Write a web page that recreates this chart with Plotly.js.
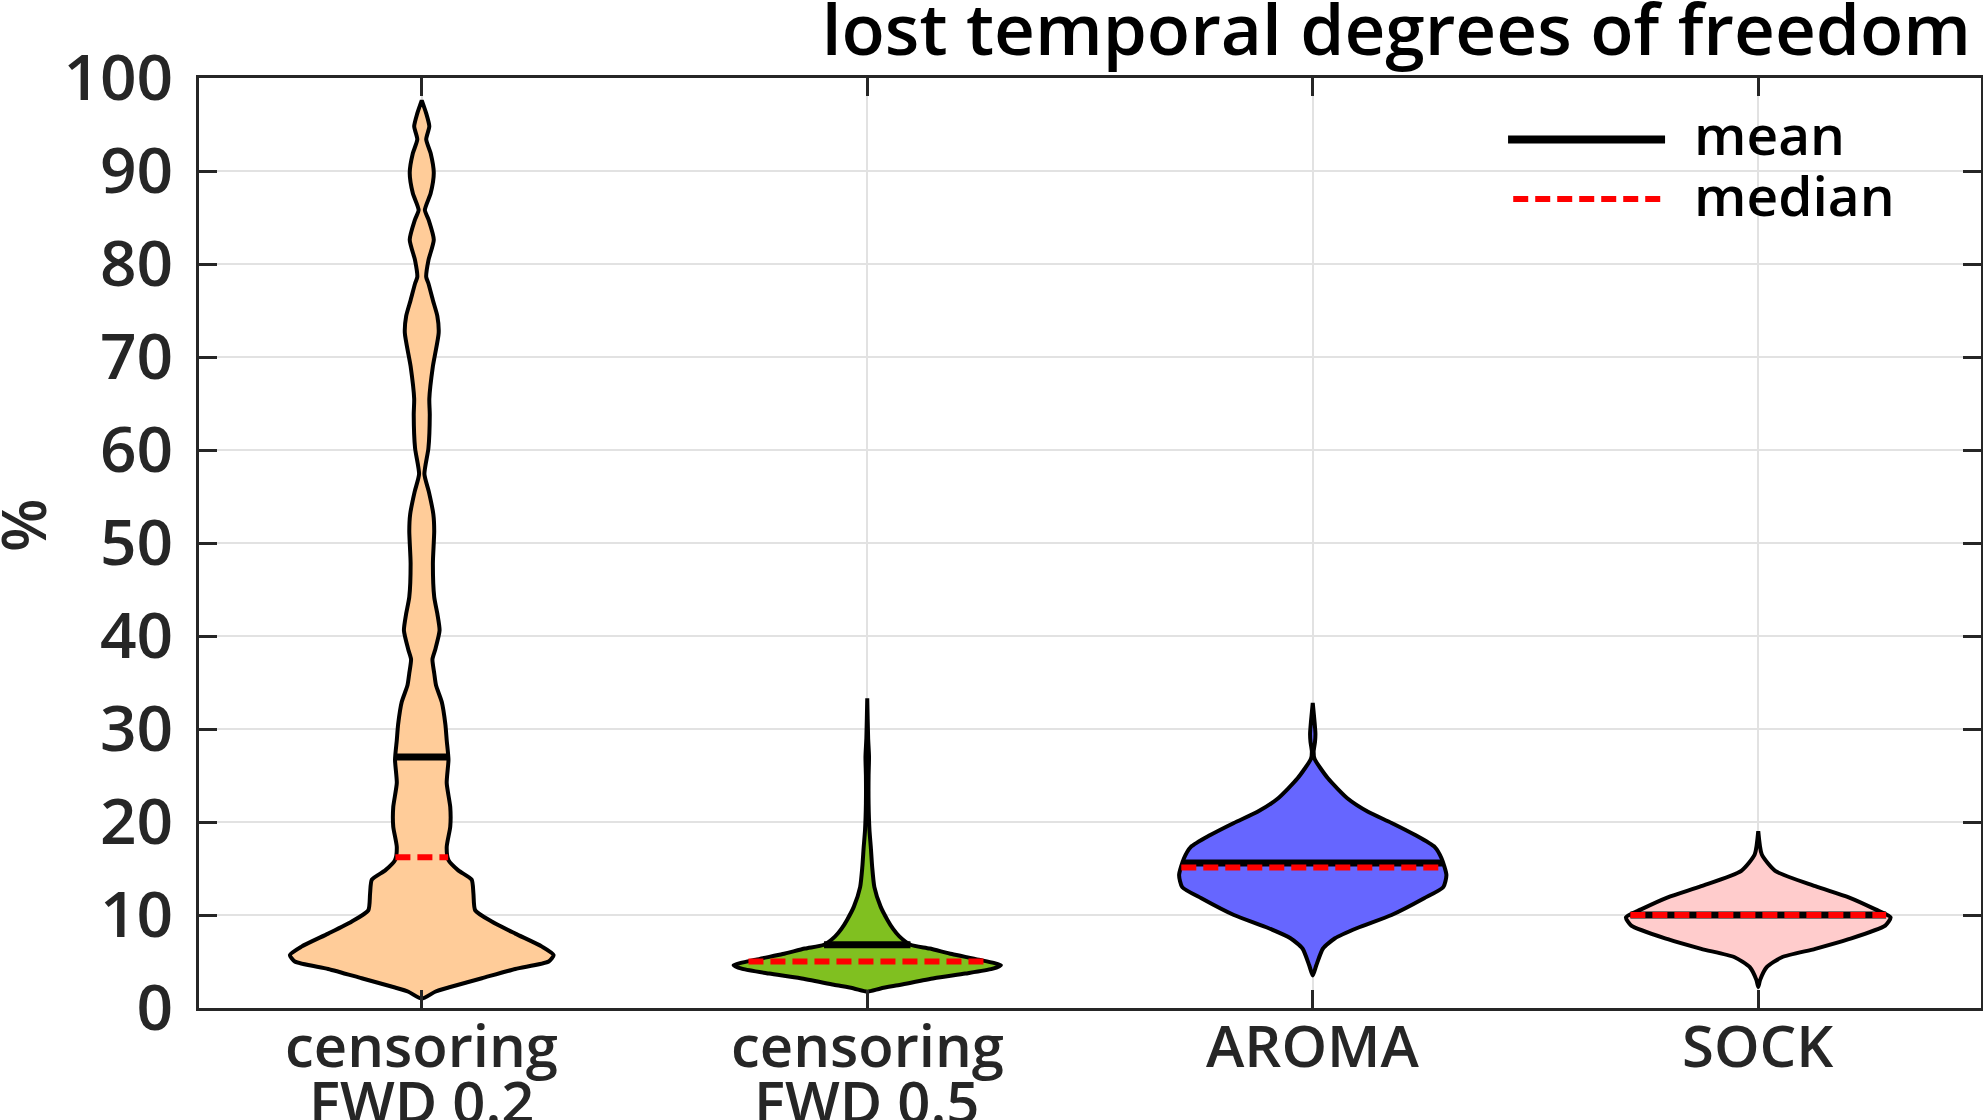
<!DOCTYPE html>
<html>
<head>
<meta charset="utf-8">
<script src="https://cdn.plot.ly/plotly-3.0.1.min.js"></script>
<style>
  html, body { margin: 0; padding: 0; background: #fff; }
  #myDiv { width: 1983px; height: 1120px; }
</style>
</head>
<body>
<div id="myDiv"></div>
<script>
// categories (two-line labels)
const labelTop = ['censoring', 'censoring', 'AROMA', 'SOCK']
const labelBottom = ['FWD 0.2', 'FWD 0.5', '', '']
const fills = ['#FFCC99', '#80C020', '#6666FF', '#FFCCCC']

// violin outlines: level (%) and half width (category units)
const levels1 = [1.0, 1.75, 2.2, 3.2, 4.2, 5.0, 5.7, 6.6, 8.0, 9.3, 10.5, 12.3, 13.8, 14.8, 15.9, 17.3, 19.5, 21.6, 24.2, 26.7, 28.8, 30.5, 32.9, 34.7, 36.0, 37.5, 38.5, 40.6, 42.4, 44.2, 47.8, 51.3, 53.1, 55.5, 57.4, 60.2, 63.8, 65.5, 69.0, 72.6, 74.4, 76.1, 77.9, 78.6, 80.4, 82.6, 84.8, 85.8, 87.6, 89.8, 91.9, 93.4, 94.8, 96.2, 97.6]
const widths1 = [0, 0.03, 0.06, 0.135, 0.21, 0.285, 0.296, 0.27, 0.21, 0.157, 0.12, 0.116, 0.112, 0.082, 0.06, 0.056, 0.064, 0.064, 0.056, 0.06, 0.056, 0.053, 0.045, 0.032, 0.028, 0.024, 0.03, 0.04, 0.035, 0.028, 0.025, 0.028, 0.026, 0.016, 0.006, 0.015, 0.018, 0.017, 0.025, 0.038, 0.035, 0.025, 0.015, 0.01, 0.015, 0.027, 0.015, 0.007, 0.02, 0.027, 0.02, 0.01, 0.017, 0.01, 0]

const levels2 = [1.75, 2.1, 2.5, 3.2, 3.7, 4.2, 4.6, 5.2, 5.8, 6.4, 6.8, 7.7, 8.5, 9.5, 10.9, 13.0, 15.2, 17.3, 19.1, 22.0, 25.0, 27.0, 29.0, 33.3]
const widths2 = [0, 0.03, 0.075, 0.15, 0.22, 0.28, 0.30, 0.25, 0.19, 0.14, 0.097, 0.072, 0.058, 0.045, 0.03, 0.016, 0.011, 0.008, 0.005, 0.003, 0.003, 0.004, 0.002, 0]

const levels3 = [3.5, 4.6, 6.4, 7.5, 8.6, 10.0, 11.8, 13.0, 14.3, 16.1, 17.3, 18.6, 19.9, 21.1, 22.5, 24.7, 26.8, 27.6, 28.6, 29.5, 30.8, 32.8]
const widths3 = [0, 0.008, 0.023, 0.05, 0.10, 0.177, 0.25, 0.293, 0.30, 0.289, 0.274, 0.23, 0.177, 0.124, 0.079, 0.034, 0.004, 0.002, 0.005, 0.006, 0.004, 0]

const levels4 = [2.25, 3.0, 4.4, 5.46, 6.36, 7.4, 8.86, 9.75, 10.6, 11.9, 13.1, 14.75, 16.5, 19.0]
const widths4 = [0, 0.004, 0.019, 0.053, 0.128, 0.203, 0.285, 0.297, 0.263, 0.203, 0.128, 0.038, 0.008, 0]

const means = [27.0, 6.8, 15.6, 10.0]
const medians = [16.2, 5.0, 15.1, 10.0]

const allLevels = [levels1, levels2, levels3, levels4]
const allWidths = [widths1, widths2, widths3, widths4]

function halfWidthAt(lv, wd, v) {
  for (let i = 1; i < lv.length; i++) {
    if (v <= lv[i]) {
      const t = (v - lv[i - 1]) / (lv[i] - lv[i - 1])
      return wd[i - 1] + t * (wd[i] - wd[i - 1])
    }
  }
  return 0
}

const data = []

allLevels.forEach(function (lv, k) {
  const wd = allWidths[k]
  const c = k + 1
  const xs = [], ys = []
  for (let i = 0; i < lv.length; i++) { xs.push(c + wd[i]); ys.push(lv[i]) }
  for (let i = lv.length - 1; i >= 0; i--) { xs.push(c - wd[i]); ys.push(lv[i]) }
  data.push({
    x: xs, y: ys, type: 'scatter', mode: 'lines',
    fill: 'toself', fillcolor: fills[k],
    line: {color: '#000', width: 4, shape: 'spline', smoothing: 0.6},
    hoverinfo: 'skip', showlegend: false
  })
})

allLevels.forEach(function (lv, k) {
  const c = k + 1
  const hw = halfWidthAt(lv, allWidths[k], means[k])
  data.push({
    x: [c - hw, c + hw], y: [means[k], means[k]], type: 'scatter', mode: 'lines',
    line: {color: '#000', width: 7}, showlegend: false
  })
})

allLevels.forEach(function (lv, k) {
  const c = k + 1
  const hw = halfWidthAt(lv, allWidths[k], medians[k])
  data.push({
    x: [c - hw, c + hw], y: [medians[k], medians[k]], type: 'scatter', mode: 'lines',
    line: {color: '#FF0000', width: 6, dash: '15px,7px'}, showlegend: false
  })
})

const textFont = {family: 'Open Sans', size: 58, weight: 600, color: '#262626'}

const annotations = []
labelTop.forEach(function (t, k) {
  annotations.push({
    x: k + 1, y: -0.039, xref: 'x', yref: 'paper', text: t, showarrow: false,
    xanchor: 'center', yanchor: 'middle', font: textFont
  })
  if (labelBottom[k]) {
    annotations.push({
      x: k + 1, y: -0.099, xref: 'x', yref: 'paper', text: labelBottom[k], showarrow: false,
      xanchor: 'center', yanchor: 'middle', font: textFont
    })
  }
})
annotations.push({
  x: -0.099, y: 0.519, xref: 'paper', yref: 'paper', text: '%', showarrow: false,
  xanchor: 'center', yanchor: 'middle', textangle: -90,
  font: {family: 'Open Sans', size: 62, weight: 600, color: '#262626'}
})
annotations.push({
  x: 0.838, y: 0.940, xref: 'paper', yref: 'paper', text: 'mean', showarrow: false,
  xanchor: 'left', yanchor: 'middle', font: {family: 'Open Sans', size: 55, weight: 600, color: '#000'}
})
annotations.push({
  x: 0.838, y: 0.875, xref: 'paper', yref: 'paper', text: 'median', showarrow: false,
  xanchor: 'left', yanchor: 'middle', font: {family: 'Open Sans', size: 55, weight: 600, color: '#000'}
})

const layout = {
  width: 1983,
  height: 1120,
  margin: {l: 199, r: 2, t: 78, b: 112},
  paper_bgcolor: '#fff',
  plot_bgcolor: '#fff',
  title: {
    text: 'lost temporal degrees of freedom',
    x: 0.994, xanchor: 'right', xref: 'container',
    y: 0.973, yanchor: 'middle', yref: 'container',
    font: {family: 'Open Sans', size: 71, weight: 600, color: '#000'}
  },
  xaxis: {
    range: [0.5, 4.5],
    tickvals: [1, 2, 3, 4],
    showticklabels: false,
    ticks: 'inside', ticklen: 18, tickwidth: 3, tickcolor: '#262626',
    showline: true, linecolor: '#262626', linewidth: 3, mirror: 'ticks',
    showgrid: true, gridcolor: '#E2E2E2', gridwidth: 2,
    zeroline: false
  },
  yaxis: {
    range: [0, 100],
    tickvals: [0, 10, 20, 30, 40, 50, 60, 70, 80, 90, 100],
    ticks: 'inside', ticklen: 18, tickwidth: 3, tickcolor: '#262626',
    ticklabelstandoff: 10,
    tickfont: {family: 'Open Sans', size: 64, weight: 600, color: '#262626'},
    showline: true, linecolor: '#262626', linewidth: 3, mirror: 'ticks',
    showgrid: true, gridcolor: '#E2E2E2', gridwidth: 2,
    zeroline: false
  },
  shapes: [
    {type: 'line', xref: 'paper', yref: 'paper', x0: 0.7346, x1: 0.8227, y0: 0.934, y1: 0.934,
      line: {color: '#000', width: 8}},
    {type: 'line', xref: 'paper', yref: 'paper', x0: 0.7375, x1: 0.8227, y0: 0.870, y1: 0.870,
      line: {color: '#FF0000', width: 6, dash: '15px,7px'}}
  ],
  annotations: annotations,
  showlegend: false
}

Plotly.newPlot('myDiv', data, layout, {staticPlot: true})
</script>
</body>
</html>
